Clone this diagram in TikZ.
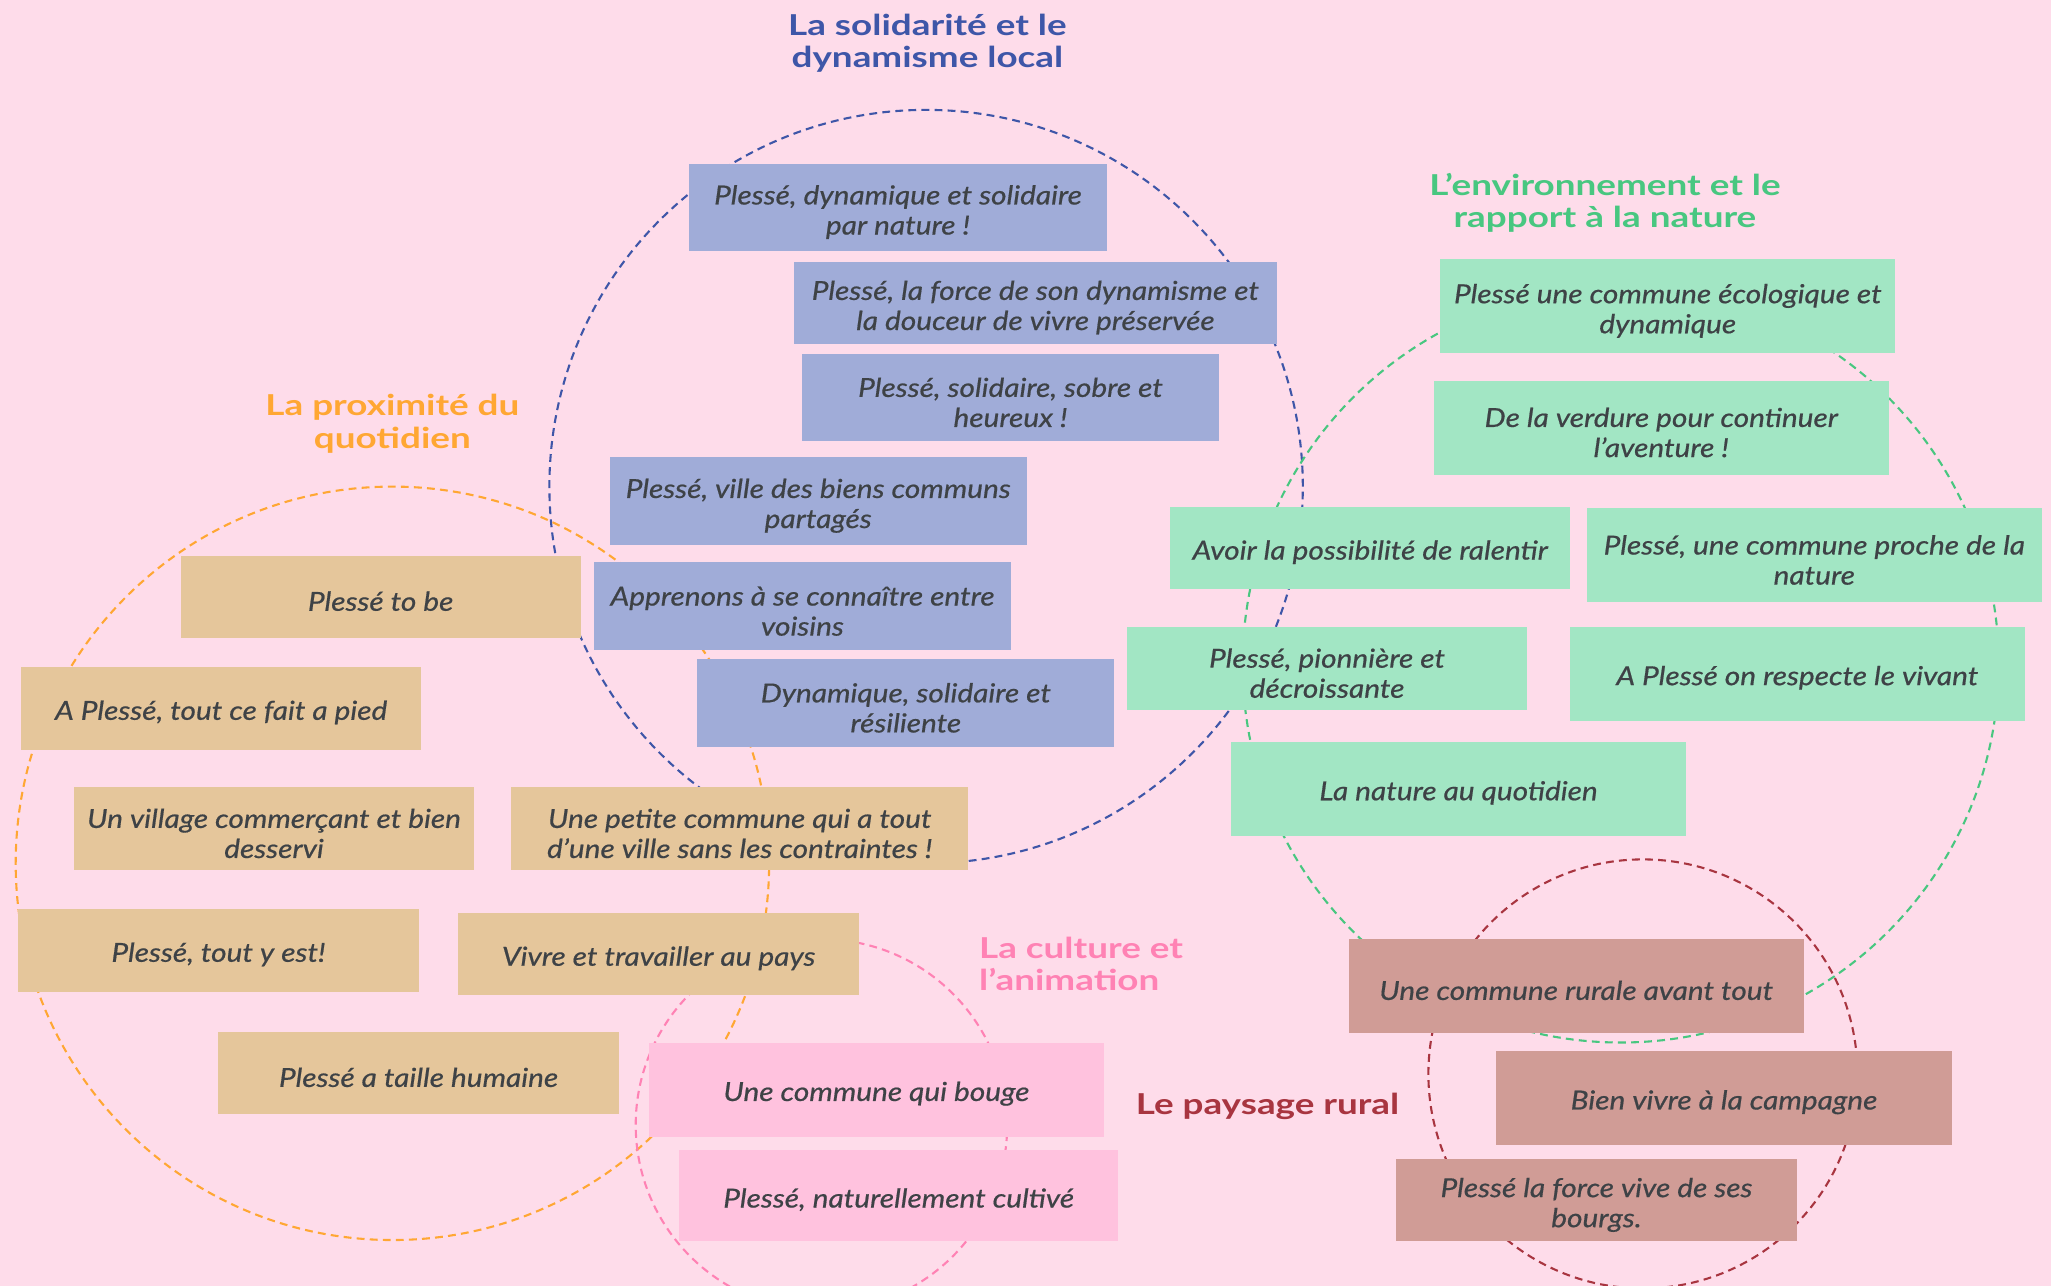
\documentclass[tikz,border=0pt]{standalone}
\usepackage{fontspec}
\setmainfont{Lato}
\newfontfamily\ideafont{Lato}[FakeStretch=1.14, FakeBold=0.6]
\newfontfamily\themefont{Lato}[FakeStretch=1.28]
\usepackage{tikz}
\usetikzlibrary{positioning}
\definecolor{bgpink}{RGB}{254,220,234}
\definecolor{ink}{RGB}{62,66,70}
\definecolor{solblue}{RGB}{62,86,168}
\definecolor{solfill}{RGB}{160,172,216}
\definecolor{proxorange}{RGB}{255,167,51}
\definecolor{proxfill}{RGB}{229,198,155}
\definecolor{envgreen}{RGB}{72,199,128}
\definecolor{envfill}{RGB}{162,230,196}
\definecolor{culpink}{RGB}{255,130,180}
\definecolor{culfill}{RGB}{255,194,222}
\definecolor{payred}{RGB}{168,53,64}
\definecolor{payfill}{RGB}{208,156,150}

\begin{document}
\begin{tikzpicture}[x=1pt,y=-1pt,
  idea/.style={rectangle, inner sep=2pt, align=center, text=ink,
    font=\ideafont\fontsize{20}{23}\selectfont\itshape,
    execute at begin node={\rule{0pt}{21pt}}},
  twoline/.style={execute at begin node={\rule{0pt}{45pt}}},
  narrow/.style={minimum width=306pt, minimum height=63pt},
  mid/.style={minimum width=319pt, minimum height=67pt},
  wide/.style={minimum width=348pt, minimum height=72pt},
  zone/.style={circle, inner sep=0pt, line width=1.6pt, dash pattern=on 6pt off 4pt},
  theme/.style={align=center, font=\themefont\fontsize{22}{25}\selectfont\bfseries}]
  \useasboundingbox (0,0) rectangle (1568,983);
  \fill[bgpink] (0,0) rectangle (1568,983);
  \clip (0,0) rectangle (1568,983);

  % Dashed circles (one per theme)
  \node[zone, draw=solblue, minimum size=576pt] (csol) at (708,372) {};
  \node[zone, draw=proxorange, minimum size=576pt] (cprox) at (300,660) {};
  \node[zone, draw=envgreen, minimum size=578pt] (cenv) at (1239,508) {};
  \node[zone, draw=culpink, minimum size=284pt] (ccul) at (628,860) {};
  \node[zone, draw=payred, minimum size=328pt] (cpay) at (1256,821) {};

  % Theme titles
  \node[theme, text=solblue] (tsol) at (709,33) {La solidarité et le\\dynamisme local};
  \node[theme, text=envgreen] (tenv) at (1227,155) {L’environnement et le\\rapport à la nature};
  \node[theme, text=proxorange] (tprox) at (300,324) {La proximité du\\quotidien};
  \node[theme, text=culpink, align=left, anchor=west] (tcul) at (745,737) {La culture et\\l’animation};
  \node[theme, text=payred] (tpay) at (969,846) {Le paysage rural};

  % Solidarity
  \node[idea, twoline, mid, fill=solfill] (sol1) at (686.5,158.5) {Plessé, dynamique et solidaire\\par nature !};
  \node[idea, twoline, fill=solfill, minimum width=369pt, minimum height=63pt] (sol2) at (791.5,231.5) {Plessé, la force de son dynamisme et\\la douceur de vivre préservée};
  \node[idea, twoline, mid, fill=solfill] (sol3) at (772.5,304) {Plessé, solidaire, sobre et\\heureux !};
  \node[idea, twoline, mid, fill=solfill] (sol4) at (625.5,383) {Plessé, ville des biens communs\\partagés};
  \node[idea, twoline, mid, fill=solfill] (sol5) at (613.5,463.5) {Apprenons à se connaître entre\\voisins};
  \node[idea, twoline, mid, fill=solfill] (sol6) at (692.5,537.5) {Dynamique, solidaire et\\résiliente};

  % Proximity
  \node[idea, narrow, fill=proxfill] (prox1) at (291,456.5) {Plessé to be};
  \node[idea, narrow, fill=proxfill] (prox2) at (169,541.5) {A Plessé, tout ce fait a pied};
  \node[idea, twoline, narrow, fill=proxfill] (prox3) at (209.5,633.5) {Un village commerçant et bien\\desservi};
  \node[idea, twoline, fill=proxfill, minimum width=349pt, minimum height=63pt] (prox4) at (565.5,633.5) {Une petite commune qui a tout\\d’une ville sans les contraintes !};
  \node[idea, narrow, fill=proxfill] (prox5) at (167,726.5) {Plessé, tout y est!};
  \node[idea, narrow, fill=proxfill] (prox6) at (503.5,729.5) {Vivre et travailler au pays};
  \node[idea, narrow, fill=proxfill] (prox7) at (320,820.5) {Plessé a taille humaine};

  % Culture
  \node[idea, wide, fill=culfill] (cul1) at (670,833) {Une commune qui bouge};
  \node[idea, fill=culfill, minimum width=336pt, minimum height=70pt] (cul2) at (687,914) {Plessé, naturellement cultivé};

  % Environment
  \node[idea, twoline, wide, fill=envfill] (env1) at (1275,234) {Plessé une commune écologique et\\dynamique};
  \node[idea, twoline, wide, fill=envfill] (env2) at (1270,327) {De la verdure pour continuer\\l’aventure !};
  \node[idea, narrow, fill=envfill] (env3) at (1047.5,419) {Avoir la possibilité de ralentir};
  \node[idea, twoline, wide, fill=envfill] (env4) at (1387,424.5) {Plessé, une commune proche de la\\nature};
  \node[idea, twoline, narrow, fill=envfill] (env5) at (1014.5,511) {Plessé, pionnière et\\décroissante};
  \node[idea, wide, fill=envfill] (env6) at (1374,515) {A Plessé on respecte le vivant};
  \node[idea, wide, fill=envfill] (env7) at (1115,603) {La nature au quotidien};

  % Rural landscape
  \node[idea, wide, fill=payfill] (pay1) at (1205,754) {Une commune rurale avant tout};
  \node[idea, wide, fill=payfill] (pay2) at (1318,839.5) {Bien vivre à la campagne};
  \node[idea, twoline, narrow, fill=payfill] (pay3) at (1220.5,917.5) {Plessé la force vive de ses\\bourgs.};
\end{tikzpicture}
\end{document}
